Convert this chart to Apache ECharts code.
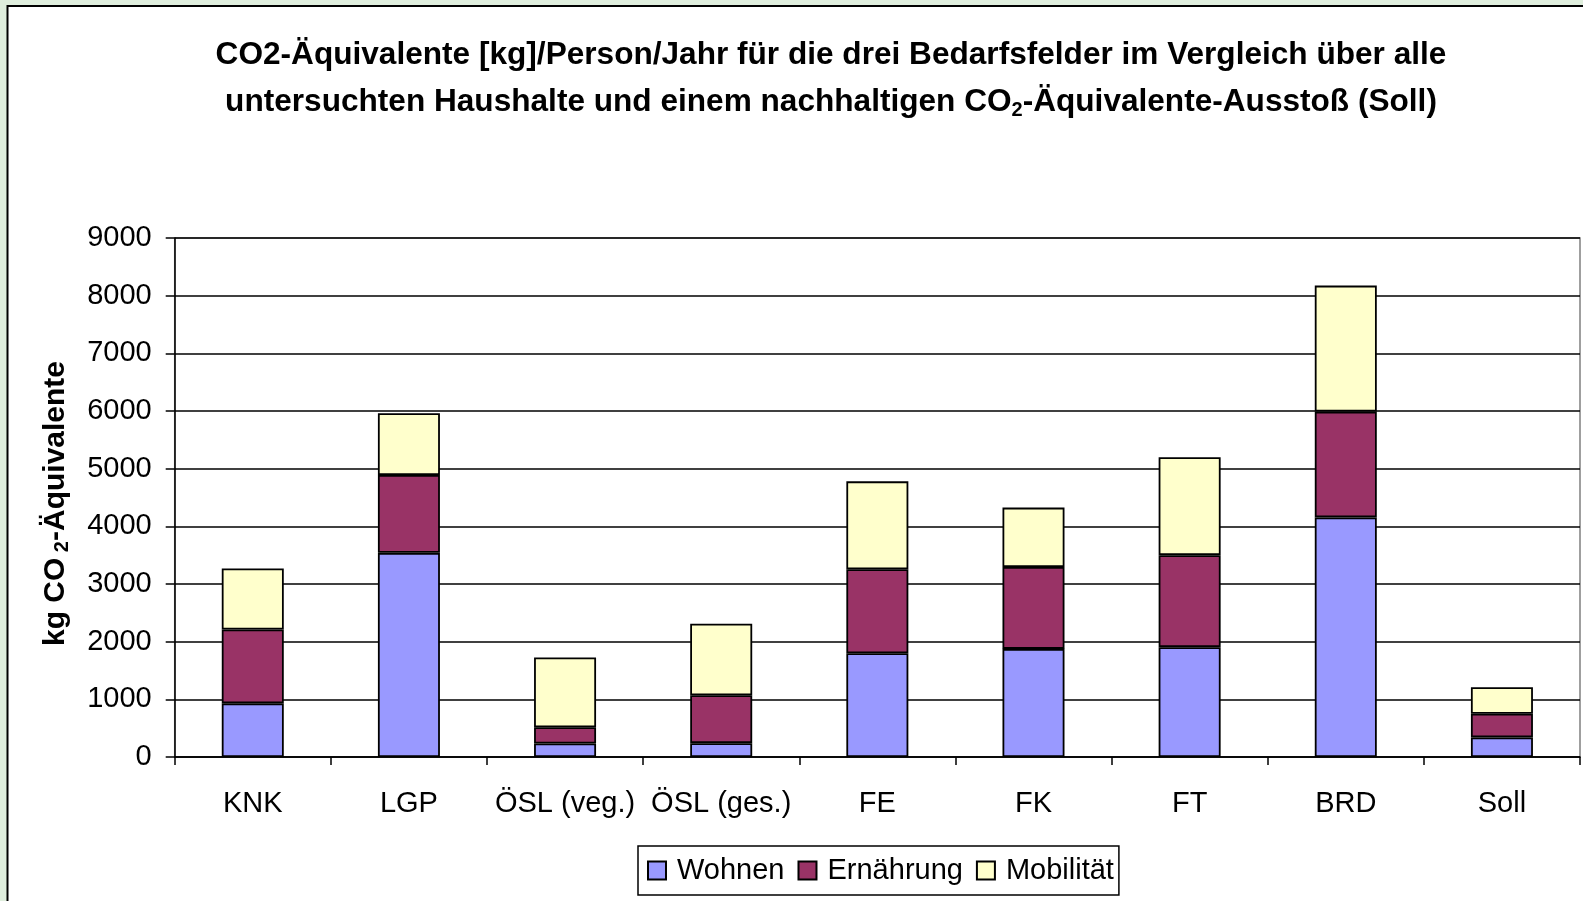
<!DOCTYPE html>
<html>
<head>
<meta charset="utf-8">
<script src="https://cdn.jsdelivr.net/npm/echarts@6/dist/echarts.min.js"></script>
<style>
  html, body { margin: 0; padding: 0; background: #dfeedd; }
  #chart { width: 1583px; height: 901px; }
</style>
</head>
<body>
<div id="chart"></div>
<script>
// Haushalte / Kategorien
var categories = ["KNK", "LGP", "ÖSL (veg.)", "ÖSL (ges.)", "FE", "FK", "FT", "BRD", "Soll"];
// kg CO2-Äquivalente pro Bedarfsfeld
var wohnen     = [930, 3540, 235, 240, 1800, 1875, 1905, 4155, 340];
var ernaehrung = [1280, 1350, 280, 830, 1455, 1420, 1595, 1835, 410];
var mobilitaet = [1060, 1070, 1210, 1240, 1525, 1030, 1700, 2185, 460];
var yTicks = [0, 1000, 2000, 3000, 4000, 5000, 6000, 7000, 8000, 9000];

var FONT = "Liberation Sans, Arial, sans-serif";

function barSeries(name, data, color) {
  return {
    name: name,
    type: "bar",
    stack: "total",
    barWidth: 62,
    data: data,
    itemStyle: { color: color, borderColor: "#000", borderWidth: 1.8 },
  };
}

var chart = echarts.init(document.getElementById("chart"));
chart.setOption({
  backgroundColor: "#dfeedd",
  animation: false,
  textStyle: { fontFamily: FONT, color: "#000" },
  graphic: [
    {
      type: "rect",
      z: -100,
      silent: true,
      shape: { x: 7.5, y: 6, width: 1620, height: 950 },
      style: { fill: "#fff", stroke: "#000", lineWidth: 2 },
    },
  ],
  title: {
    left: 826,
    top: 27,
    textAlign: "center",
    text:
      "{b|CO2-Äquivalente [kg]/Person/Jahr für die drei Bedarfsfelder im Vergleich über alle}\n" +
      "{b|untersuchten Haushalte und einem nachhaltigen CO}{s|2}{b|-Äquivalente-Ausstoß (Soll)}",
    textStyle: {
      rich: {
        b: { fontFamily: FONT, fontWeight: "bold", fontSize: 31.6, lineHeight: 47, color: "#000" },
        s: { fontFamily: FONT, fontWeight: "bold", fontSize: 20, lineHeight: 47, color: "#000", padding: [16, 0, 0, 0] },
      },
    },
  },
  legend: {
    left: 638,
    top: 846,
    padding: [10, 5, 10, 9],
    borderColor: "#000",
    borderWidth: 1.5,
    itemGap: 13,
    itemWidth: 18,
    itemHeight: 18,
    icon: "rect",
    textStyle: { fontFamily: FONT, fontSize: 29, color: "#000", padding: [0, 0, 0, 6] },
    data: ["Wohnen", "Ernährung", "Mobilität"],
  },
  grid: {
    left: 174.7,
    right: 3,
    top: 238,
    bottom: 144,
    containLabel: false,
    outerBoundsMode: "none",
    show: true,
    borderColor: "#808080",
    borderWidth: 1.5,
  },
  xAxis: {
    type: "category",
    data: categories,
    axisLine: { lineStyle: { color: "#000", width: 1.5 } },
    axisTick: { show: true, interval: 0, length: 8, lineStyle: { color: "#000", width: 1.5 } },
    axisLabel: { interval: 0, margin: 32, fontFamily: FONT, fontSize: 29, color: "#000" },
  },
  yAxis: {
    type: "value",
    min: yTicks[0],
    max: yTicks[yTicks.length - 1],
    interval: 1000,
    name: "{b|kg CO}{s| 2}{b|-Äquivalente}",
    nameLocation: "middle",
    nameRotate: 90,
    nameGap: 102,
    nameTextStyle: {
      padding: [0, 12, 0, 0],
      rich: {
        b: { fontFamily: FONT, fontWeight: "bold", fontSize: 30, color: "#000" },
        s: { fontFamily: FONT, fontWeight: "bold", fontSize: 20, color: "#000", padding: [13, 0, 0, 0] },
      },
    },
    axisLine: { show: true, lineStyle: { color: "#000", width: 1.5 } },
    axisTick: { show: true, length: 9, lineStyle: { color: "#000", width: 1.5 } },
    axisLabel: {
      margin: 23,
      fontFamily: FONT,
      fontSize: 29,
      color: "#000",
      formatter: function (v) { return String(v); },
    },
    splitLine: { show: true, lineStyle: { color: "#000", width: 1.5 } },
  },
  series: [
    barSeries("Wohnen", wohnen, "#9999ff"),
    barSeries("Ernährung", ernaehrung, "#993366"),
    barSeries("Mobilität", mobilitaet, "#ffffcc"),
  ],
});
</script>
</body>
</html>
